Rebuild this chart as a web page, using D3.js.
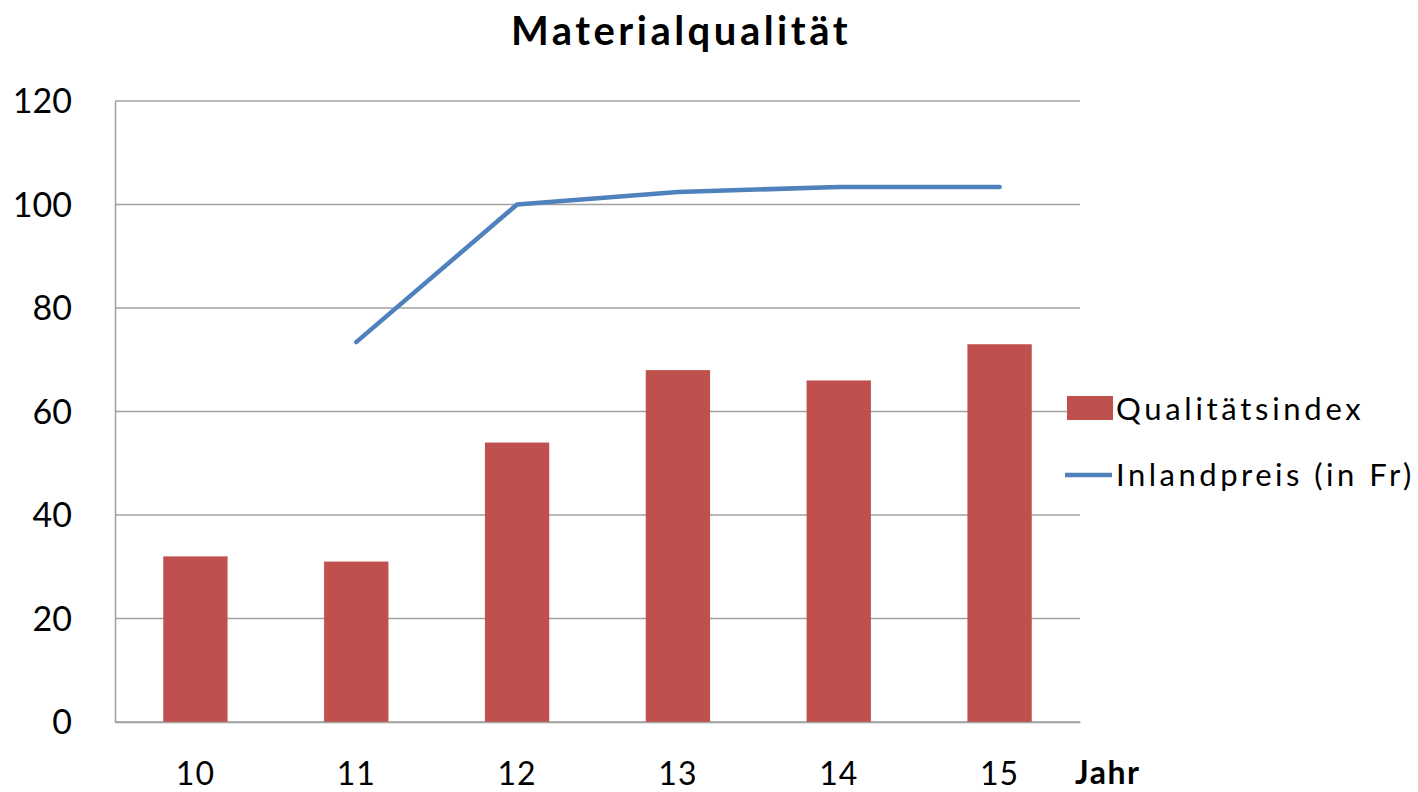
<!DOCTYPE html>
<html>
<head>
<meta charset="utf-8">
<script src="https://cdn.jsdelivr.net/npm/d3@7"></script>
<style>
  body { margin: 0; background: #fff; }
  text { font-family: Lato, "Open Sans", sans-serif; fill: #000; }
</style>
</head>
<body>
<svg id="chart" width="1418" height="792"></svg>
<script>
// data
const years = ["10", "11", "12", "13", "14", "15"];
const qualitaet = [32, 31, 54, 68, 66, 73];
const preis = [null, 73.4, 100, 102.4, 103.4, 103.4];
const yTicks = [0, 20, 40, 60, 80, 100, 120];

const svg = d3.select("#chart");
const plotLeft = 115, plotRight = 1080, plotTop = 101, plotBottom = 722;

let x = d3.scaleBand()
    .domain(years)
    .range([plotLeft, plotRight])
    .paddingInner(0.6)
    .paddingOuter(0.3);

let y = d3.scaleLinear()
    .domain([0, 120])
    .range([plotBottom, plotTop]);

// title
svg.append("text")
    .attr("x", 681)
    .attr("y", 45)
    .attr("text-anchor", "middle")
    .style("font-size", "40px")
    .style("font-weight", "bold")
    .style("letter-spacing", "3.5px")
    .text("Materialqualität");

// grid lines
svg.append("g")
    .selectAll("line")
    .data(yTicks)
    .enter()
    .append("line")
    .attr("x1", plotLeft)
    .attr("x2", plotRight)
    .attr("y1", d => y(d))
    .attr("y2", d => y(d))
    .attr("stroke", "#a0a0a0")
    .attr("stroke-width", 1.5);

// y axis
let yAxis = svg.append("g")
    .attr("transform", "translate(" + plotLeft + ",0)")
    .call(d3.axisLeft(y).tickValues(yTicks).tickSize(0).tickPadding(43));
yAxis.select(".domain").attr("stroke", "#a0a0a0").attr("stroke-width", 1.5);
yAxis.selectAll("text")
    .style("font-size", "34px")
    .attr("font-family", null)
    .attr("dy", "0.35em");

// bars
svg.append("g")
    .selectAll("rect")
    .data(qualitaet)
    .enter()
    .append("rect")
    .attr("x", (d, i) => x(years[i]))
    .attr("y", d => y(d))
    .attr("width", x.bandwidth())
    .attr("height", d => y(0) - y(d))
    .attr("fill", "#C0504D");

// x axis
let xAxis = svg.append("g")
    .attr("transform", "translate(0," + plotBottom + ")")
    .call(d3.axisBottom(x).tickSize(0).tickPadding(40));
xAxis.select(".domain").attr("stroke", "#a0a0a0").attr("stroke-width", 1.5);
xAxis.selectAll("text")
    .style("font-size", "32px")
    .style("letter-spacing", "1px")
    .attr("font-family", null);

svg.append("text")
    .attr("x", 1075)
    .attr("y", 784)
    .style("font-size", "32px")
    .style("font-weight", "bold")
    .style("letter-spacing", "1.5px")
    .text("Jahr");

// price line
let line = d3.line()
    .defined(d => d !== null)
    .x((d, i) => x(years[i]) + x.bandwidth() / 2)
    .y(d => y(d));

svg.append("path")
    .datum(preis)
    .attr("d", line)
    .attr("fill", "none")
    .attr("stroke", "#4F81BD")
    .attr("stroke-width", 4.5)
    .attr("stroke-linejoin", "round")
    .attr("stroke-linecap", "round");

// legend
let legend = svg.append("g");
legend.append("rect")
    .attr("x", 1067)
    .attr("y", 396)
    .attr("width", 46)
    .attr("height", 24)
    .attr("fill", "#C0504D");
legend.append("text")
    .attr("x", 1116)
    .attr("y", 420)
    .style("font-size", "31px")
    .style("letter-spacing", "3.7px")
    .text("Qualitätsindex");
legend.append("line")
    .attr("x1", 1065)
    .attr("x2", 1112)
    .attr("y1", 475)
    .attr("y2", 475)
    .attr("stroke", "#4F81BD")
    .attr("stroke-width", 4.5);
legend.append("text")
    .attr("x", 1116)
    .attr("y", 486)
    .style("font-size", "31px")
    .style("letter-spacing", "3.5px")
    .text("Inlandpreis (in Fr)");
</script>
</body>
</html>
